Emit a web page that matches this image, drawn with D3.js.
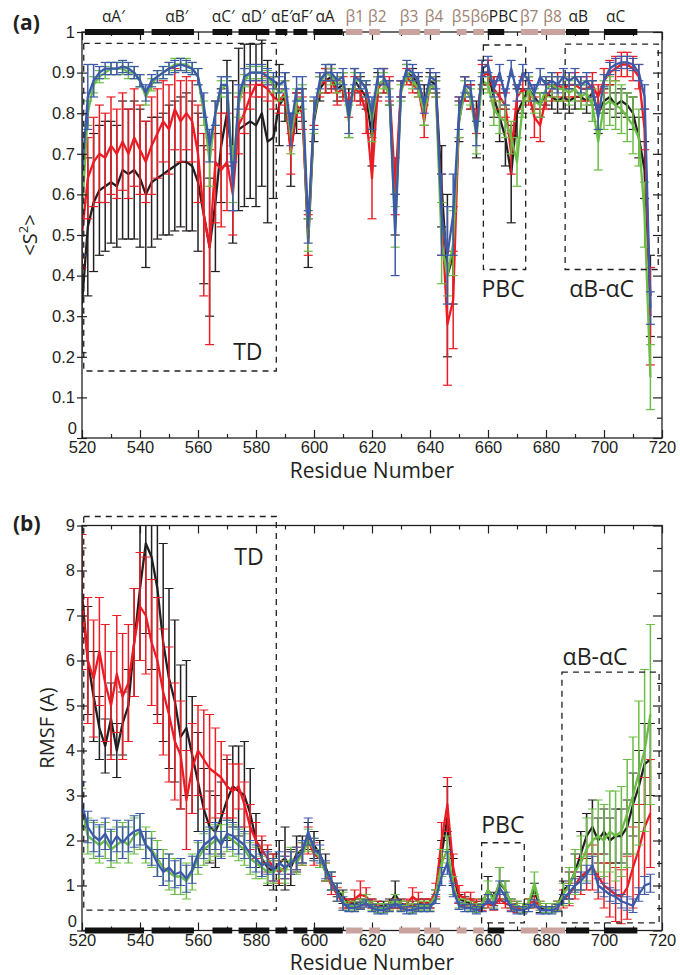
<!DOCTYPE html>
<html>
<head>
<meta charset="utf-8">
<script src="https://cdn.jsdelivr.net/npm/d3@7"></script>
<style>
  body { margin: 0; background: #fff; }
  svg { display: block; font-family: 'Open Sans', 'Noto Sans', sans-serif; }
</style>
</head>
<body>
<div id="chart"></div>
<script>
// residues sampled every second position
const residues = d3.range(520, 717, 2);

// panel (a) order parameter <S2>
const s2Black = [
  0.33, 0.52, 0.58, 0.61, 0.62, 0.63, 0.62, 0.66, 0.65, 0.66,
  0.64, 0.60, 0.63, 0.64, 0.65, 0.66, 0.67, 0.68, 0.68, 0.67,
  0.63, 0.55, 0.47, 0.58, 0.72, 0.80, 0.68, 0.76, 0.77, 0.78,
  0.77, 0.80, 0.73, 0.74, 0.82, 0.84, 0.71, 0.80, 0.82, 0.48,
  0.78, 0.86, 0.88, 0.89, 0.86, 0.87, 0.80, 0.88, 0.86, 0.84,
  0.74, 0.87, 0.88, 0.85, 0.55, 0.86, 0.90, 0.89, 0.87, 0.82,
  0.88, 0.87, 0.62, 0.40, 0.45, 0.78, 0.86, 0.84, 0.76, 0.90,
  0.90, 0.84, 0.79, 0.74, 0.65, 0.80, 0.83, 0.86, 0.84, 0.82,
  0.85, 0.84, 0.83, 0.84, 0.83, 0.84, 0.84, 0.83, 0.85, 0.80,
  0.83, 0.84, 0.82, 0.83, 0.82, 0.80, 0.74, 0.66, 0.35];
const s2BlackErr = [
  0.12, 0.17, 0.17, 0.16, 0.16, 0.15, 0.15, 0.17, 0.16, 0.17,
  0.17, 0.18, 0.16, 0.15, 0.15, 0.16, 0.16, 0.16, 0.17, 0.16,
  0.17, 0.17, 0.17, 0.17, 0.14, 0.13, 0.20, 0.20, 0.20, 0.19,
  0.20, 0.18, 0.20, 0.15, 0.10, 0.06, 0.09, 0.05, 0.04, 0.06,
  0.05, 0.03, 0.03, 0.03, 0.03, 0.03, 0.06, 0.03, 0.03, 0.03,
  0.07, 0.03, 0.03, 0.03, 0.05, 0.02, 0.02, 0.02, 0.02, 0.05,
  0.02, 0.02, 0.10, 0.20, 0.12, 0.05, 0.03, 0.03, 0.07, 0.03,
  0.03, 0.05, 0.06, 0.07, 0.12, 0.06, 0.03, 0.03, 0.03, 0.03,
  0.03, 0.03, 0.03, 0.03, 0.03, 0.03, 0.03, 0.03, 0.03, 0.05,
  0.03, 0.03, 0.03, 0.03, 0.03, 0.04, 0.05, 0.07, 0.10];
const s2Red = [
  0.50, 0.64, 0.68, 0.70, 0.69, 0.72, 0.70, 0.73, 0.70, 0.74,
  0.71, 0.68, 0.72, 0.75, 0.78, 0.76, 0.81, 0.78, 0.80, 0.78,
  0.70, 0.55, 0.47, 0.68, 0.66, 0.68, 0.60, 0.77, 0.80, 0.84,
  0.87, 0.87, 0.86, 0.84, 0.83, 0.85, 0.70, 0.82, 0.80, 0.50,
  0.80, 0.87, 0.88, 0.88, 0.85, 0.86, 0.82, 0.86, 0.85, 0.80,
  0.64, 0.86, 0.88, 0.86, 0.62, 0.86, 0.89, 0.87, 0.86, 0.78,
  0.87, 0.86, 0.55, 0.28, 0.34, 0.79, 0.86, 0.84, 0.78, 0.89,
  0.90, 0.86, 0.84, 0.82, 0.70, 0.84, 0.86, 0.85, 0.79, 0.77,
  0.84, 0.86, 0.87, 0.86, 0.87, 0.87, 0.86, 0.86, 0.87, 0.84,
  0.88, 0.90, 0.91, 0.92, 0.92, 0.91, 0.89, 0.76, 0.30];
const s2RedErr = [
  0.08, 0.10, 0.11, 0.12, 0.11, 0.12, 0.11, 0.12, 0.11, 0.12,
  0.11, 0.10, 0.12, 0.11, 0.10, 0.11, 0.10, 0.10, 0.09, 0.10,
  0.12, 0.20, 0.24, 0.15, 0.14, 0.12, 0.10, 0.07, 0.05, 0.03,
  0.03, 0.03, 0.03, 0.03, 0.03, 0.03, 0.05, 0.03, 0.04, 0.05,
  0.03, 0.03, 0.03, 0.03, 0.03, 0.03, 0.03, 0.03, 0.03, 0.05,
  0.10, 0.03, 0.03, 0.03, 0.07, 0.02, 0.02, 0.02, 0.02, 0.04,
  0.02, 0.02, 0.10, 0.15, 0.12, 0.05, 0.03, 0.03, 0.03, 0.03,
  0.03, 0.03, 0.03, 0.03, 0.05, 0.03, 0.03, 0.03, 0.05, 0.04,
  0.03, 0.03, 0.03, 0.03, 0.03, 0.03, 0.03, 0.03, 0.03, 0.03,
  0.03, 0.03, 0.03, 0.03, 0.03, 0.03, 0.03, 0.05, 0.12];
const s2Green = [
  0.55, 0.80, 0.87, 0.89, 0.90, 0.91, 0.91, 0.91, 0.90, 0.90,
  0.88, 0.84, 0.87, 0.89, 0.90, 0.91, 0.92, 0.92, 0.92, 0.91,
  0.89, 0.80, 0.68, 0.80, 0.86, 0.87, 0.65, 0.82, 0.88, 0.90,
  0.90, 0.90, 0.89, 0.87, 0.85, 0.86, 0.74, 0.83, 0.84, 0.50,
  0.79, 0.87, 0.90, 0.89, 0.87, 0.88, 0.78, 0.88, 0.88, 0.86,
  0.78, 0.87, 0.88, 0.84, 0.52, 0.85, 0.90, 0.88, 0.86, 0.80,
  0.87, 0.86, 0.48, 0.40, 0.48, 0.78, 0.86, 0.84, 0.74, 0.88,
  0.87, 0.81, 0.79, 0.78, 0.74, 0.68, 0.82, 0.86, 0.83, 0.82,
  0.86, 0.87, 0.86, 0.86, 0.85, 0.86, 0.84, 0.85, 0.82, 0.73,
  0.82, 0.83, 0.82, 0.81, 0.79, 0.77, 0.74, 0.55, 0.15];
const s2GreenErr = [
  0.05, 0.03, 0.02, 0.015, 0.015, 0.015, 0.015, 0.015, 0.015, 0.015,
  0.015, 0.02, 0.015, 0.015, 0.015, 0.015, 0.015, 0.015, 0.015, 0.015,
  0.02, 0.03, 0.06, 0.03, 0.02, 0.02, 0.07, 0.03, 0.015, 0.015,
  0.015, 0.015, 0.015, 0.02, 0.02, 0.02, 0.04, 0.03, 0.03, 0.04,
  0.04, 0.02, 0.02, 0.02, 0.02, 0.02, 0.04, 0.02, 0.02, 0.02,
  0.05, 0.02, 0.02, 0.02, 0.05, 0.02, 0.02, 0.02, 0.02, 0.03,
  0.02, 0.02, 0.10, 0.05, 0.08, 0.04, 0.02, 0.02, 0.04, 0.02,
  0.02, 0.04, 0.04, 0.04, 0.04, 0.06, 0.03, 0.03, 0.03, 0.03,
  0.03, 0.03, 0.03, 0.03, 0.03, 0.03, 0.03, 0.03, 0.04, 0.07,
  0.06, 0.06, 0.06, 0.06, 0.06, 0.07, 0.07, 0.08, 0.08];
const s2Blue = [
  0.65, 0.84, 0.88, 0.90, 0.91, 0.91, 0.91, 0.915, 0.91, 0.90,
  0.88, 0.85, 0.88, 0.89, 0.90, 0.91, 0.915, 0.92, 0.915, 0.91,
  0.89, 0.82, 0.72, 0.80, 0.87, 0.87, 0.62, 0.84, 0.89, 0.90,
  0.90, 0.90, 0.89, 0.88, 0.87, 0.88, 0.76, 0.86, 0.86, 0.52,
  0.80, 0.88, 0.90, 0.90, 0.88, 0.89, 0.79, 0.89, 0.88, 0.86,
  0.80, 0.89, 0.89, 0.86, 0.50, 0.86, 0.91, 0.90, 0.88, 0.82,
  0.89, 0.88, 0.55, 0.45, 0.55, 0.80, 0.87, 0.86, 0.75, 0.91,
  0.92, 0.86, 0.90, 0.84, 0.91, 0.85, 0.90, 0.88, 0.85, 0.89,
  0.87, 0.88, 0.87, 0.89, 0.88, 0.89, 0.87, 0.88, 0.86, 0.79,
  0.88, 0.91, 0.92, 0.925, 0.925, 0.92, 0.90, 0.84, 0.32];
const s2BlueErr = [
  0.20, 0.08, 0.04, 0.015, 0.015, 0.015, 0.015, 0.015, 0.015, 0.015,
  0.015, 0.02, 0.015, 0.015, 0.015, 0.015, 0.015, 0.015, 0.015, 0.015,
  0.02, 0.03, 0.04, 0.03, 0.02, 0.02, 0.06, 0.03, 0.02, 0.02,
  0.02, 0.02, 0.02, 0.02, 0.02, 0.02, 0.04, 0.03, 0.03, 0.04,
  0.04, 0.02, 0.02, 0.02, 0.02, 0.02, 0.04, 0.02, 0.02, 0.02,
  0.04, 0.02, 0.02, 0.02, 0.10, 0.02, 0.02, 0.02, 0.02, 0.02,
  0.02, 0.02, 0.10, 0.12, 0.10, 0.04, 0.02, 0.02, 0.03, 0.02,
  0.02, 0.02, 0.02, 0.02, 0.02, 0.02, 0.02, 0.02, 0.02, 0.02,
  0.02, 0.02, 0.02, 0.02, 0.02, 0.02, 0.02, 0.02, 0.02, 0.03,
  0.015, 0.015, 0.015, 0.015, 0.015, 0.015, 0.02, 0.03, 0.04];

// panel (b) RMSF
const rmsfBlack = [
  7.5, 6.0, 5.2, 4.5, 4.1, 4.7, 4.0, 4.6, 5.0, 6.4,
  7.6, 8.6, 8.3, 7.6, 6.4, 5.6, 5.1, 4.3, 4.5, 3.9,
  3.3, 2.7, 2.3, 2.2, 2.5, 2.9, 3.2, 3.1, 3.0, 2.6,
  2.0, 1.6, 1.4, 1.3, 1.5, 1.6, 1.4, 1.7, 1.8, 2.1,
  1.9, 1.7, 1.4, 1.1, 0.9, 0.75, 0.6, 0.6, 0.6, 0.7,
  0.6, 0.55, 0.55, 0.6, 0.8, 0.6, 0.55, 0.55, 0.6, 0.6,
  0.6, 0.8, 1.7, 2.5, 1.3, 0.7, 0.65, 0.6, 0.55, 0.6,
  0.9, 0.7, 1.05, 0.9, 0.6, 0.55, 0.5, 0.6, 0.9, 0.5,
  0.5, 0.5, 0.55, 0.9, 1.0, 1.3, 1.7, 2.1, 2.3, 2.0,
  2.2, 2.0, 2.1, 2.1, 2.3, 2.8, 3.2, 3.7, 3.8];
const rmsfBlackErr = [
  1.0, 1.2, 1.0, 0.7, 0.6, 0.8, 0.6, 0.7, 0.8, 1.2,
  1.6, 2.0, 2.5, 2.8, 2.2, 2.0, 1.8, 1.6, 1.5, 1.3,
  1.1, 0.9, 0.8, 0.8, 0.8, 0.9, 0.9, 1.0, 1.2, 1.0,
  0.6, 0.4, 0.4, 0.4, 0.5, 0.7, 0.4, 0.4, 0.3, 0.3,
  0.3, 0.3, 0.3, 0.2, 0.15, 0.15, 0.1, 0.1, 0.1, 0.1,
  0.1, 0.1, 0.1, 0.1, 0.3, 0.1, 0.1, 0.1, 0.1, 0.1,
  0.1, 0.1, 0.3, 0.7, 0.3, 0.1, 0.1, 0.1, 0.1, 0.1,
  0.3, 0.15, 0.35, 0.2, 0.1, 0.1, 0.1, 0.1, 0.15, 0.1,
  0.1, 0.1, 0.1, 0.2, 0.3, 0.4, 0.5, 0.5, 0.6, 0.5,
  0.5, 0.5, 0.6, 0.6, 0.6, 0.7, 0.8, 0.9, 0.8];
const rmsfRed = [
  7.3, 6.0, 5.6, 6.2, 5.5, 5.0, 5.7, 5.2, 5.5, 6.4,
  7.2, 7.0, 6.4, 6.0, 5.3, 4.8, 4.2, 3.9, 2.9, 3.6,
  4.0, 3.8, 3.6, 3.5, 3.4, 3.2, 3.1, 3.2, 2.8, 2.3,
  2.0, 1.8, 1.6, 1.4, 1.3, 1.4, 1.5, 1.6, 1.7, 2.0,
  1.7, 1.6, 1.3, 1.0, 0.8, 0.6, 0.6, 0.7, 0.8, 0.75,
  0.6, 0.55, 0.5, 0.55, 0.6, 0.55, 0.6, 0.75, 0.65, 0.6,
  0.6, 0.9, 2.0, 2.8, 1.4, 0.8, 0.7, 0.7, 0.6, 0.55,
  0.6, 0.55, 0.7, 0.6, 0.55, 0.5, 0.5, 0.6, 0.65, 0.55,
  0.5, 0.5, 0.55, 0.7, 0.8, 1.0, 1.2, 1.3, 1.4, 1.2,
  1.0, 0.9, 0.8, 0.75, 0.95, 1.4, 1.8, 2.3, 2.6];
const rmsfRedErr = [
  1.5, 1.4, 1.3, 1.2, 1.3, 1.2, 1.3, 1.4, 1.3, 1.2,
  1.2, 1.3, 1.4, 1.4, 1.4, 1.5, 1.3, 1.2, 1.1, 1.0,
  1.0, 1.1, 1.2, 1.0, 0.8, 0.7, 0.6, 0.5, 0.5, 0.5,
  0.4, 0.3, 0.3, 0.3, 0.25, 0.25, 0.25, 0.25, 0.25, 0.3,
  0.25, 0.2, 0.2, 0.2, 0.15, 0.1, 0.1, 0.2, 0.3, 0.2,
  0.1, 0.1, 0.1, 0.1, 0.1, 0.1, 0.1, 0.2, 0.2, 0.1,
  0.1, 0.15, 0.4, 0.6, 0.3, 0.2, 0.15, 0.15, 0.1, 0.1,
  0.1, 0.1, 0.1, 0.1, 0.1, 0.1, 0.1, 0.1, 0.15, 0.1,
  0.1, 0.1, 0.1, 0.2, 0.25, 0.3, 0.4, 0.4, 0.5, 0.5,
  0.5, 0.6, 0.6, 0.6, 0.7, 0.9, 1.0, 1.1, 1.2];
const rmsfGreen = [
  2.7, 2.1, 2.0, 1.9, 2.0, 1.8, 1.9, 2.0, 1.9, 2.1,
  2.2, 1.9, 1.8, 1.6, 1.4, 1.3, 1.2, 1.2, 1.1, 1.3,
  1.6, 1.8, 1.9, 2.0, 2.0, 2.1, 2.0, 1.9, 1.8, 1.6,
  1.5, 1.4, 1.3, 1.3, 1.4, 1.3, 1.6, 1.5, 1.7, 2.0,
  1.8, 1.6, 1.3, 1.1, 0.85, 0.65, 0.55, 0.55, 0.6, 0.7,
  0.55, 0.5, 0.5, 0.55, 0.7, 0.55, 0.55, 0.5, 0.55, 0.55,
  0.55, 0.8, 1.5, 1.8, 1.0, 0.6, 0.6, 0.55, 0.5, 0.6,
  0.9, 0.65, 1.1, 0.9, 0.6, 0.55, 0.5, 0.6, 1.05, 0.55,
  0.5, 0.5, 0.55, 0.8, 1.0, 1.3, 1.5, 1.8, 2.0, 2.1,
  2.0, 2.2, 2.1, 2.2, 2.6, 3.0, 3.5, 4.0, 4.8];
const rmsfGreenErr = [
  0.45, 0.4, 0.4, 0.4, 0.4, 0.4, 0.4, 0.4, 0.4, 0.4,
  0.4, 0.4, 0.4, 0.4, 0.4, 0.4, 0.4, 0.4, 0.4, 0.4,
  0.35, 0.35, 0.35, 0.35, 0.35, 0.35, 0.35, 0.35, 0.35, 0.35,
  0.35, 0.25, 0.25, 0.25, 0.25, 0.25, 0.25, 0.25, 0.25, 0.25,
  0.25, 0.2, 0.2, 0.2, 0.2, 0.2, 0.1, 0.1, 0.1, 0.1,
  0.1, 0.1, 0.1, 0.1, 0.1, 0.1, 0.1, 0.1, 0.1, 0.1,
  0.1, 0.1, 0.3, 0.3, 0.2, 0.1, 0.1, 0.1, 0.1, 0.1,
  0.2, 0.15, 0.3, 0.2, 0.1, 0.1, 0.1, 0.1, 0.25, 0.1,
  0.1, 0.1, 0.1, 0.25, 0.4, 0.5, 0.6, 0.7, 0.7, 0.8,
  0.8, 0.9, 1.0, 1.0, 1.2, 1.3, 1.6, 1.8, 2.0];
const rmsfBlue = [
  2.8, 2.3, 2.1, 2.0, 2.15, 1.9, 2.1, 1.95, 2.1, 2.2,
  2.25, 1.9, 1.75, 1.5, 1.3, 1.4, 1.25, 1.3, 1.15, 1.35,
  1.7, 1.9, 2.0, 2.1, 1.9, 2.15, 2.1, 2.0, 1.9, 1.7,
  1.6, 1.45, 1.5, 1.35, 1.5, 1.4, 1.5, 1.6, 1.75, 2.2,
  1.8, 1.7, 1.35, 1.1, 0.85, 0.6, 0.5, 0.5, 0.55, 0.6,
  0.5, 0.45, 0.45, 0.5, 0.6, 0.5, 0.45, 0.45, 0.5, 0.5,
  0.5, 0.7, 1.2, 1.5, 0.9, 0.55, 0.5, 0.5, 0.45, 0.5,
  0.7, 0.55, 0.95, 0.75, 0.5, 0.45, 0.45, 0.5, 0.6, 0.45,
  0.45, 0.45, 0.5, 0.7, 0.85, 1.0, 1.1, 1.25, 1.45, 1.0,
  0.9, 0.8, 0.75, 0.65, 0.6, 0.55, 0.8, 1.0, 1.05];
const rmsfBlueErr = [
  0.5, 0.35, 0.35, 0.35, 0.35, 0.35, 0.35, 0.35, 0.35, 0.35,
  0.35, 0.3, 0.3, 0.3, 0.3, 0.3, 0.3, 0.3, 0.3, 0.3,
  0.3, 0.3, 0.3, 0.3, 0.3, 0.3, 0.3, 0.3, 0.3, 0.3,
  0.3, 0.25, 0.25, 0.25, 0.25, 0.25, 0.25, 0.25, 0.25, 0.3,
  0.25, 0.2, 0.2, 0.2, 0.2, 0.15, 0.08, 0.08, 0.08, 0.08,
  0.08, 0.08, 0.08, 0.08, 0.08, 0.08, 0.08, 0.08, 0.08, 0.08,
  0.08, 0.1, 0.2, 0.25, 0.15, 0.08, 0.08, 0.08, 0.08, 0.08,
  0.1, 0.08, 0.15, 0.1, 0.08, 0.08, 0.08, 0.08, 0.08, 0.08,
  0.08, 0.08, 0.08, 0.1, 0.15, 0.15, 0.2, 0.2, 0.2, 0.15,
  0.15, 0.15, 0.15, 0.15, 0.15, 0.15, 0.15, 0.2, 0.2];

// secondary structure elements
const ssNames = ['αA′', 'αB′', 'αC′', 'αD′', 'αE′', 'αF′', 'αA', 'β1', 'β2', 'β3', 'β4', 'β5', 'β6', 'PBC', 'β7', 'β8', 'αB', 'αC'];
const ssStart = [521, 544, 565, 574, 586.7, 592.9, 599.8, 611, 619, 629.3, 638, 649.2, 654.9, 659.9, 671.3, 678.2, 686.9, 700];
const ssEnd = [541.4, 558.6, 571.8, 584.6, 590.8, 597.7, 609.9, 616.7, 622.8, 636.6, 643.4, 652.6, 658.6, 665.6, 677.3, 686.6, 694.9, 711.5];
const ssLabelAt = [530.8, 552.7, 568.7, 579.1, 588.9, 595.8, 603.8, 614.1, 621.8, 632.8, 641.4, 650.7, 657.2, 665.3, 674.2, 682.3, 691.1, 704];

// dashed region boxes [x0, x1, y0, y1] and their labels
const boxNames = ['TD', 'PBC', 'αB-αC'];
const boxesA = [[520.6, 587, 0.165, 0.972], [658.4, 673, 0.415, 0.968], [686.6, 718.7, 0.415, 0.97]];
const boxLabelsA = [[577.2, 0.192], [665.2, 0.348], [699.2, 0.348]];
const boxesB = [[520.6, 587, 0.455, 9.2], [657.8, 672.5, 0.17, 1.95], [685.5, 719, 0.17, 5.74]];
const boxLabelsB = [[577.6, 8.12], [665.1, 2.16], [696.9, 5.9]];

const colors = ['#231f20', '#ed1c24', '#6cbd45', '#3d5aa9'];

const svg = d3.select('#chart').append('svg')
  .attr('width', 680)
  .attr('height', 975);

const x = d3.scaleLinear().domain([520, 720]).range([82, 662]);
const yA = d3.scaleLinear().domain([0, 1]).range([438, 32]);
const yB = d3.scaleLinear().domain([0, 9]).range([930.5, 525.5]);

function drawPanel(id, y, series, opts) {
  const g = svg.append('g').attr('class', 'panel-' + id);
  const [y0, y1] = y.range();

  g.append('clipPath').attr('id', 'clip-' + id)
    .append('rect')
    .attr('x', 82).attr('y', y1)
    .attr('width', 580).attr('height', y0 - y1);

  const plot = g.append('g').attr('clip-path', `url(#clip-${id})`);

  // Data series with error bars
  series.forEach((s, k) => {
    const pts = residues.map((r, i) => ({ r, v: s.values[i], e: s.errors[i] }));
    const sg = plot.append('g').attr('stroke', colors[k]).attr('fill', 'none');
    sg.selectAll('line.stem').data(pts).enter().append('line')
      .attr('class', 'stem')
      .attr('x1', d => x(d.r)).attr('x2', d => x(d.r))
      .attr('y1', d => y(d.v - d.e)).attr('y2', d => y(d.v + d.e))
      .attr('stroke-width', 1.5);
    ['lo', 'hi'].forEach(side => {
      sg.selectAll('line.' + side).data(pts).enter().append('line')
        .attr('class', side)
        .attr('x1', d => x(d.r) - 4.5).attr('x2', d => x(d.r) + 4.5)
        .attr('y1', d => y(side === 'lo' ? d.v - d.e : d.v + d.e))
        .attr('y2', d => y(side === 'lo' ? d.v - d.e : d.v + d.e))
        .attr('stroke-width', 1.2);
    });
    sg.append('path')
      .datum(pts)
      .attr('stroke-width', 2.3)
      .attr('stroke-linejoin', 'round')
      .attr('d', d3.line().x(d => x(d.r)).y(d => y(d.v)));
  });

  // Dashed boxes
  opts.boxes.forEach((b, i) => {
    g.append('rect')
      .attr('x', x(b[0])).attr('y', y(b[3]))
      .attr('width', x(b[1]) - x(b[0]))
      .attr('height', y(b[2]) - y(b[3]))
      .attr('fill', 'none')
      .attr('stroke', '#231f20')
      .attr('stroke-width', 1.3)
      .attr('stroke-dasharray', '6,5');
    g.append('text')
      .attr('x', x(opts.boxLabels[i][0]))
      .attr('y', y(opts.boxLabels[i][1]))
      .attr('text-anchor', 'middle')
      .style('font-size', '23px')
      .attr('fill', '#231f20')
      .text(boxNames[i]);
  });

  // Axes
  const ax = (axis, tx, ty) => {
    const a = g.append('g').attr('transform', `translate(${tx},${ty})`).call(axis);
    a.select('.domain').remove();
    a.selectAll('line').attr('stroke', '#231f20').attr('stroke-width', 1.2);
    a.selectAll('text').style('font-size', '16.5px').attr('fill', '#231f20');
    return a;
  };
  const major = d3.range(520, 721, 20);
  const minor = d3.range(530, 720, 20);
  ax(d3.axisBottom(x).tickValues(major).tickSize(-8).tickSizeOuter(0).tickPadding(3.5), 0, y0);
  ax(d3.axisBottom(x).tickValues(minor).tickSize(-4).tickSizeOuter(0).tickFormat(''), 0, y0);
  ax(d3.axisTop(x).tickValues(major).tickSize(-8).tickSizeOuter(0).tickFormat(''), 0, y1);
  ax(d3.axisTop(x).tickValues(minor).tickSize(-4).tickSizeOuter(0).tickFormat(''), 0, y1);
  const left = ax(d3.axisLeft(y).tickValues(opts.leftTicks).tickSize(5).tickSizeOuter(0)
    .tickPadding(2).tickFormat(opts.fmt), 82, 0);
  // the zero label sits higher in the corner so it clears the residue labels
  left.selectAll('.tick').filter(d => d === 0).select('text')
    .attr('dy', '-0.25em').attr('x', -5);
  ax(d3.axisRight(y).tickValues(opts.leftTicks).tickSize(5).tickSizeOuter(0).tickFormat(''), 82, 0);
  ax(d3.axisLeft(y).tickValues(opts.leftTicks).tickSize(9).tickSizeOuter(0).tickFormat(''), 662, 0);
  ax(d3.axisLeft(y).tickValues(opts.rightMinor).tickSize(5).tickSizeOuter(0).tickFormat(''), 662, 0);

  g.append('rect')
    .attr('x', 82).attr('y', y1)
    .attr('width', 580).attr('height', y0 - y1)
    .attr('fill', 'none').attr('stroke', '#231f20').attr('stroke-width', 1.3);

  // Secondary structure strip on one axis
  const stripY = opts.stripOnTop ? y1 : y0;
  ssNames.forEach((n, i) => {
    const beta = n.startsWith('β');
    g.append('rect')
      .attr('x', x(ssStart[i])).attr('y', stripY - 3)
      .attr('width', x(ssEnd[i]) - x(ssStart[i])).attr('height', 6)
      .attr('fill', beta ? '#c9a39d' : '#111');
    if (opts.stripOnTop) {
      g.append('text')
        .attr('x', x(ssLabelAt[i])).attr('y', 22)
        .attr('text-anchor', 'middle')
        .style('font-size', '15.5px')
        .attr('fill', beta ? '#9d8273' : '#231f20')
        .text(n);
    }
  });

  // Titles
  g.append('text')
    .attr('x', 13).attr('y', opts.tagY)
    .style('font-size', '21px').style('font-weight', 'bold')
    .attr('fill', '#231f20')
    .text(opts.tag);
  g.append('text')
    .attr('x', 372).attr('y', y0 + 39.5)
    .attr('text-anchor', 'middle')
    .style('font-size', '21px')
    .attr('fill', '#231f20')
    .text('Residue Number');
  const yt = g.append('text')
    .attr('transform', `translate(${opts.yTitleX},${(y0 + y1) / 2}) rotate(-90)`)
    .attr('text-anchor', 'middle')
    .style('font-size', '20px')
    .attr('fill', '#231f20');
  opts.yTitle(yt);
}

drawPanel('a', yA, [
  { values: s2Black, errors: s2BlackErr },
  { values: s2Red, errors: s2RedErr },
  { values: s2Green, errors: s2GreenErr },
  { values: s2Blue, errors: s2BlueErr }
], {
  boxes: boxesA,
  boxLabels: boxLabelsA,
  leftTicks: d3.range(0, 11).map(d => d / 10),
  rightMinor: d3.range(0, 10).map(d => d / 10 + 0.05),
  fmt: d => (d === 0 || d === 1) ? String(d) : d3.format('.1f')(d),
  stripOnTop: true,
  tag: '(a)', tagY: 30,
  yTitleX: 37,
  yTitle: t => {
    t.append('tspan').text('<S');
    t.append('tspan').attr('baseline-shift', 'super').style('font-size', '13px').text('2');
    t.append('tspan').text('>');
  }
});

drawPanel('b', yB, [
  { values: rmsfBlack, errors: rmsfBlackErr },
  { values: rmsfRed, errors: rmsfRedErr },
  { values: rmsfGreen, errors: rmsfGreenErr },
  { values: rmsfBlue, errors: rmsfBlueErr }
], {
  boxes: boxesB,
  boxLabels: boxLabelsB,
  leftTicks: d3.range(0, 10),
  rightMinor: d3.range(0, 9).map(d => d + 0.5),
  fmt: d3.format('d'),
  stripOnTop: false,
  tag: '(b)', tagY: 531,
  yTitleX: 54,
  yTitle: t => t.text('RMSF (A)')
});
</script>
</body>
</html>
